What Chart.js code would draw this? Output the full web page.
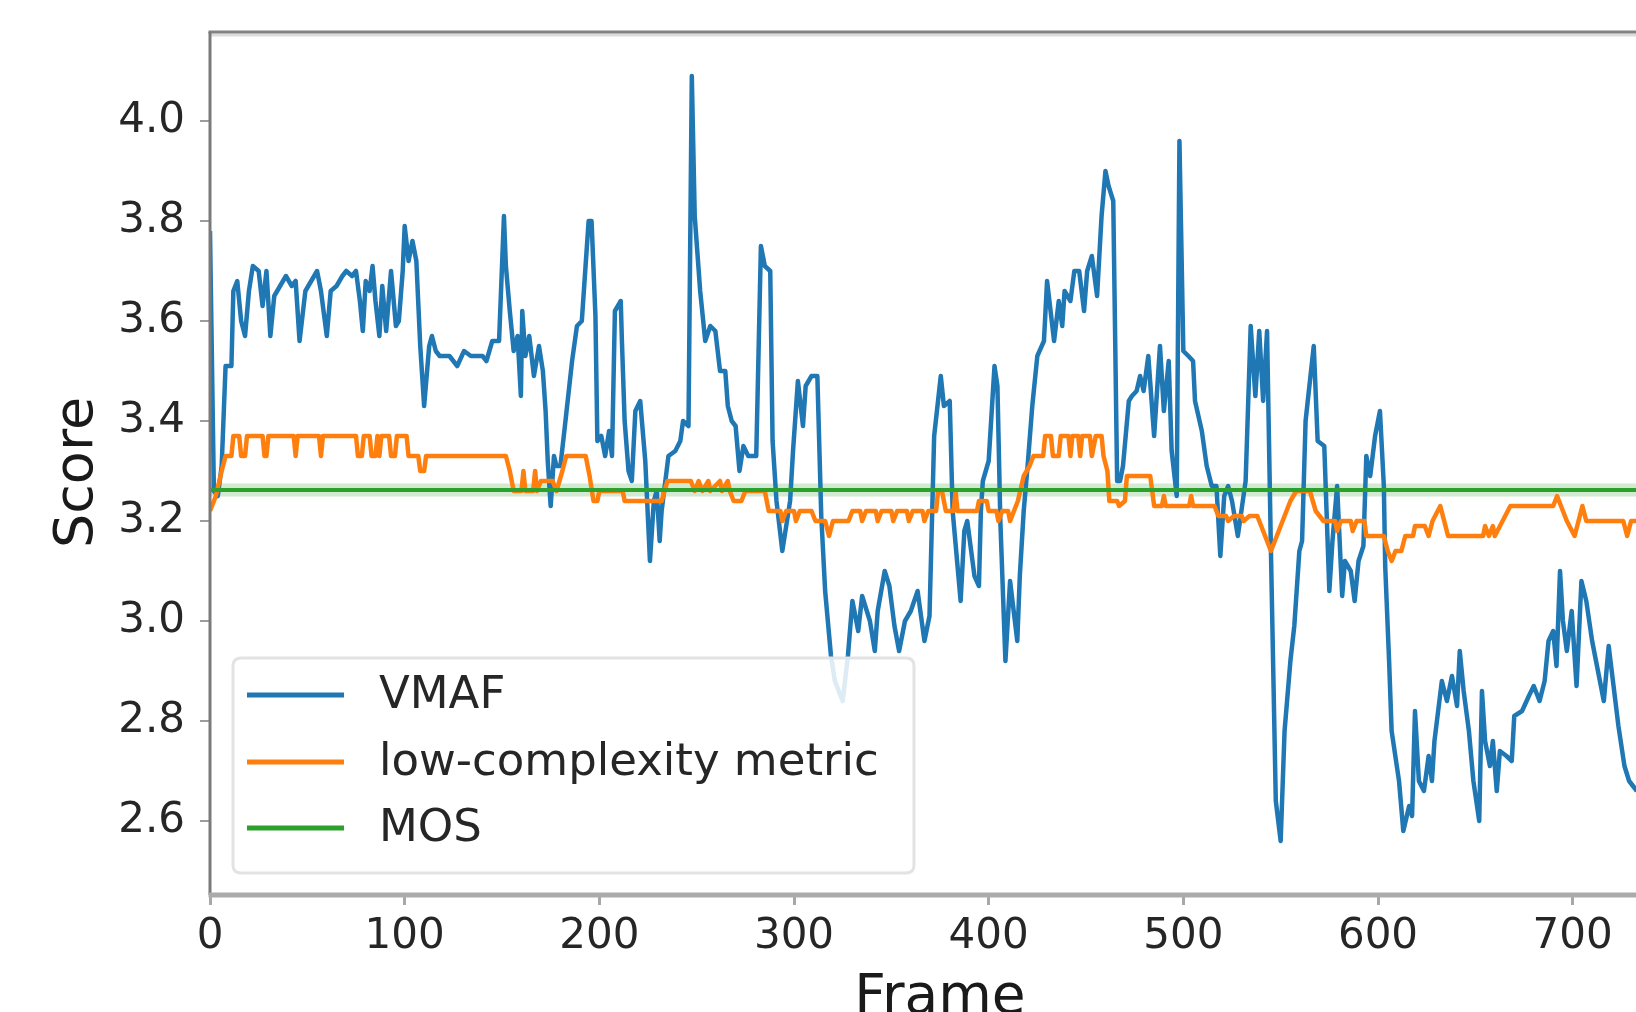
<!DOCTYPE html>
<html><head><meta charset="utf-8">
<script src="https://cdn.jsdelivr.net/npm/chart.js@4.4.1/dist/chart.umd.min.js"></script>
<style>
html,body{margin:0;padding:0;background:#fff;overflow:hidden;width:1636px;height:1012px;}
#wrap{position:absolute;left:0;top:0;width:1720px;height:1060px;}
</style></head><body>
<div id="wrap"><canvas id="c"></canvas></div>
<script>
const vmafFrames = [
0,2,4,6,8,11,12,14,16,18,
20,22,25,27,29,31,33,36,39,42,
44,46,49,52,55,57,60,62,65,68,
70,73,75,77,78.5,80,82,83.5,85,87,
88.5,90.5,93,95.5,97,99,100,102,104,106,
108,110,112.6,114,116,118,121,123,127,130.5,
134,137,140,142,145,148.5,151,152,154,156,
158,159.7,160.4,162,164,166.4,169,171,172.4,173.5,
175,176.7,178,180,182.6,186,188.5,191,194.5,196,
198,199,201,203,205,206.5,208,211,211.6,213,
215,216.7,218.5,221,223.6,226,228,229.5,231,232,
235.5,239,241.6,243,245.8,247.5,249,251.8,254.4,257,
259.6,262,264.7,266,268,270,272,274,276.5,280.6,
283,285,287.8,289,291,294,298,299.5,302,304.6,
306,309,312,314,316,319,321,325,327.7,330,
333,335,339,341.5,343,346.6,349,351.6,354,357,
360,363.5,367,369.6,372,375.4,377,380,381.5,385.6,
387.5,389,392.7,395,396,397,400,403,404.5,406,
408.6,411,414.7,416,418,420,422.4,425,428.4,430,
433.6,436,437.8,439,442,444,446.5,449,450.6,453,
455.7,456.7,458,460,461.6,464,466,467.5,469,472,
473.6,476,477.8,479.6,482,485,488,490,492.5,494,
496.6,498,500,502.6,505,506,509.5,512,514.6,517,
519,521,523,525,528,532,534.6,537,539,541,
543,545,547.5,550,552,555,557,559.6,561,562.8,
567,569,572.4,575,576.6,579,581.6,583,586,588,
590,592.5,594,596,598.5,601,603,603.7,605.7,607,
610.8,613,616,617.5,619,621,623.6,626,627.7,629,
632.8,635.4,638,640.6,642,644,646.7,649,652,653.4,
655,657.5,659,661,662.6,666,668.7,670,674,677.5,
680,683,685.6,687.6,690,691.7,693.5,695,697,699.5,
702,704.5,707,710,713,716,718.5,721,723.5,726.6,
729,733];
const vmafScores = [
3.78,3.26,3.25,3.31,3.51,3.51,3.66,3.68,3.60,3.57,
3.66,3.71,3.70,3.63,3.70,3.57,3.65,3.67,3.69,3.67,
3.68,3.56,3.66,3.68,3.70,3.66,3.57,3.66,3.67,3.69,
3.70,3.69,3.70,3.64,3.58,3.68,3.66,3.71,3.64,3.57,
3.67,3.58,3.70,3.59,3.60,3.70,3.79,3.72,3.76,3.72,
3.55,3.43,3.55,3.57,3.54,3.53,3.53,3.53,3.51,3.54,
3.53,3.53,3.53,3.52,3.56,3.56,3.81,3.71,3.62,3.54,
3.57,3.45,3.62,3.53,3.57,3.49,3.55,3.50,3.42,3.32,
3.23,3.33,3.31,3.31,3.40,3.52,3.59,3.60,3.80,3.80,
3.61,3.36,3.37,3.33,3.38,3.33,3.62,3.64,3.56,3.40,
3.30,3.28,3.42,3.44,3.32,3.12,3.24,3.26,3.16,3.22,
3.33,3.34,3.36,3.40,3.39,4.09,3.81,3.66,3.56,3.59,
3.58,3.50,3.50,3.43,3.40,3.39,3.30,3.35,3.33,3.33,
3.75,3.71,3.70,3.36,3.24,3.14,3.24,3.34,3.48,3.39,
3.47,3.49,3.49,3.21,3.06,2.93,2.88,2.84,2.93,3.04,
2.98,3.05,3.00,2.94,3.02,3.10,3.07,2.99,2.94,3.00,
3.02,3.06,2.96,3.01,3.37,3.49,3.43,3.44,3.22,3.04,
3.18,3.20,3.09,3.07,3.22,3.28,3.32,3.51,3.47,3.20,
2.92,3.08,2.96,3.09,3.22,3.31,3.43,3.53,3.56,3.68,
3.56,3.64,3.59,3.66,3.64,3.70,3.70,3.62,3.70,3.73,
3.65,3.72,3.81,3.90,3.87,3.84,3.28,3.28,3.31,3.44,
3.45,3.46,3.49,3.46,3.53,3.37,3.55,3.42,3.52,3.34,
3.25,3.96,3.54,3.53,3.52,3.44,3.38,3.31,3.27,3.27,
3.13,3.25,3.27,3.24,3.17,3.28,3.59,3.45,3.58,3.44,
3.58,3.14,2.64,2.56,2.78,2.92,2.99,3.14,3.16,3.40,
3.55,3.36,3.35,3.06,3.16,3.27,3.05,3.12,3.10,3.04,
3.12,3.15,3.33,3.29,3.37,3.42,3.27,3.11,2.92,2.78,
2.68,2.58,2.63,2.61,2.82,2.68,2.66,2.73,2.68,2.76,
2.88,2.84,2.89,2.83,2.94,2.86,2.78,2.68,2.60,2.86,
2.76,2.71,2.76,2.66,2.74,2.73,2.72,2.81,2.82,2.85,
2.87,2.84,2.88,2.96,2.98,2.91,3.10,3.00,2.94,3.02,
2.87,3.08,3.04,2.96,2.90,2.84,2.95,2.87,2.79,2.71,
2.68,2.66];

const lcmFrames = [
0,3,6,8,11,12,15,16,18,19,
27,28,29,30,43,44,45,56,57,58,
75,76,78,79,82,83,85,86,87,88,
92,93,95,96,101,102,107,108,110,111,
152,154,156,160,161,162,166,167,168,170,
176,178,181,183,193,195,197,199,200,212,
213,232,235,247,249,251,253,256,257,262,
263,266,267,269,273,275,285,287,293,294,
296,300,301,303,309,311,316,318,320,328,
330,334,335,337,342,343,345,350,351,353,
358,359,361,366,367,369,373,374,376,378,
382,383,384,394,395,399,400,404,405,407,
410,411,413,415,418,421,423,428,429,432,
433,436,437,441,442,443,446,447,448,452,
453,455,458,459,461,462,466,467,470,471,
483,485,489,490,491,503,504,505,516,518,
522,523,526,530,531,534,538,542,545,548,
551,555,558,565,568,572,578,579,581,586,
587,589,593,594,603,605,607,609,612,614,
618,619,624,626,628,632,634,636,654,655,
657,659,660,664,668,690,692,694,697,701,
703,705,707,726,728,730,735];
const lcmScores = [
3.22,3.25,3.30,3.33,3.33,3.37,3.37,3.33,3.33,3.37,
3.37,3.33,3.33,3.37,3.37,3.33,3.37,3.37,3.33,3.37,
3.37,3.33,3.33,3.37,3.37,3.33,3.33,3.37,3.33,3.37,
3.37,3.33,3.33,3.37,3.37,3.33,3.33,3.30,3.30,3.33,
3.33,3.30,3.26,3.26,3.30,3.26,3.26,3.30,3.26,3.28,
3.28,3.26,3.30,3.33,3.33,3.29,3.24,3.24,3.26,3.26,
3.24,3.24,3.28,3.28,3.26,3.28,3.26,3.28,3.26,3.28,
3.26,3.28,3.26,3.24,3.24,3.26,3.26,3.22,3.22,3.20,
3.22,3.22,3.20,3.22,3.22,3.20,3.20,3.17,3.20,3.20,
3.22,3.22,3.20,3.22,3.22,3.20,3.22,3.22,3.20,3.22,
3.22,3.20,3.22,3.22,3.20,3.22,3.22,3.26,3.26,3.22,
3.22,3.26,3.22,3.22,3.24,3.24,3.22,3.22,3.20,3.22,
3.22,3.20,3.22,3.24,3.29,3.31,3.33,3.33,3.37,3.37,
3.33,3.33,3.37,3.37,3.33,3.37,3.37,3.33,3.37,3.37,
3.33,3.37,3.37,3.33,3.30,3.24,3.24,3.23,3.24,3.29,
3.29,3.23,3.23,3.25,3.23,3.23,3.25,3.23,3.23,3.21,
3.21,3.20,3.21,3.21,3.20,3.21,3.21,3.17,3.14,3.17,
3.20,3.24,3.26,3.26,3.22,3.20,3.20,3.18,3.20,3.20,
3.18,3.20,3.20,3.17,3.17,3.14,3.12,3.14,3.14,3.17,
3.17,3.19,3.19,3.17,3.20,3.23,3.20,3.17,3.17,3.19,
3.17,3.19,3.17,3.20,3.23,3.23,3.25,3.23,3.20,3.17,
3.20,3.23,3.20,3.20,3.17,3.20,3.20];

const mosScore = 3.262;
const mosFrames = [0, 750];

const xTicks = [0, 100, 200, 300, 400, 500, 600, 700];
const yTicks = [2.6, 2.8, 3.0, 3.2, 3.4, 3.6, 3.8, 4.0];
const xRange = [0, 750];
const yRange = [2.452, 4.178];

const seriesLabels = ['VMAF', 'low-complexity metric', 'MOS'];
const seriesColors = ['#1f77b4', '#ff7f0e', '#2ca02c'];
const axisTitles = ['Frame', 'Score'];

const FONT = '"DejaVu Sans", "Liberation Sans", sans-serif';

function toPoints(xs, ys) { return xs.map((x, i) => ({x: x, y: ys[i]})); }

const decor = {
  id: 'decor',
  beforeDatasetsDraw(chart) {
    const {ctx, chartArea: a, scales: {y}} = chart;
    const py = y.getPixelForValue(mosScore);
    ctx.save();
    ctx.beginPath(); ctx.rect(a.left, a.top, a.right - a.left, a.bottom - a.top); ctx.clip();
    ctx.strokeStyle = 'rgba(44,160,44,0.22)';
    ctx.lineWidth = 13;
    ctx.beginPath(); ctx.moveTo(a.left, py); ctx.lineTo(a.right, py); ctx.stroke();
    ctx.restore();
  },
  afterDraw(chart) {
    const {ctx, chartArea: a} = chart;
    ctx.save();
    ctx.lineCap = 'butt';
    const seg = (x1, y1, x2, y2, c, w) => { ctx.strokeStyle = c; ctx.lineWidth = w; ctx.beginPath(); ctx.moveTo(x1, y1); ctx.lineTo(x2, y2); ctx.stroke(); };
    // spines
    seg(a.left, a.top + 3, a.right, a.top + 3, '#dcdcdc', 3);
    seg(a.left - 1.5, a.top, a.right, a.top, '#828282', 3);
    seg(a.left, a.top, a.left, a.bottom, '#7a7a7a', 3);
    seg(a.right, a.top, a.right, a.bottom, '#7a7a7a', 3);
    seg(a.left - 1.5, a.bottom, a.right, a.bottom, '#ababab', 5);

    // legend
    const lx = a.left + 23, ly = a.bottom - 237, lw = 681, lh = 215, r = 8;
    ctx.beginPath();
    ctx.moveTo(lx + r, ly); ctx.lineTo(lx + lw - r, ly); ctx.quadraticCurveTo(lx + lw, ly, lx + lw, ly + r);
    ctx.lineTo(lx + lw, ly + lh - r); ctx.quadraticCurveTo(lx + lw, ly + lh, lx + lw - r, ly + lh);
    ctx.lineTo(lx + r, ly + lh); ctx.quadraticCurveTo(lx, ly + lh, lx, ly + lh - r);
    ctx.lineTo(lx, ly + r); ctx.quadraticCurveTo(lx, ly, lx + r, ly); ctx.closePath();
    ctx.fillStyle = 'rgba(255,255,255,0.85)'; ctx.fill();
    ctx.strokeStyle = '#e3e3e3'; ctx.lineWidth = 3; ctx.stroke();
    const rows = [37, 104, 170];
    ctx.font = '45px ' + FONT;
    ctx.textBaseline = 'middle';
    ctx.textAlign = 'left';
    chart.data.datasets.forEach((ds, i) => {
      const yy = ly + rows[i];
      seg(lx + 14, yy, lx + 111, yy, ds.borderColor, 5);
      ctx.fillStyle = '#262626';
      ctx.fillText(ds.label, lx + 146, yy + 1);
    });

    // axis titles
    ctx.fillStyle = '#1a1a1a';
    ctx.font = '55px ' + FONT;
    ctx.textAlign = 'center';
    ctx.textBaseline = 'alphabetic';
    ctx.fillText(axisTitles[0], (a.left + a.right) / 2, 1013);
    ctx.font = '54px ' + FONT;
    ctx.translate(92, (a.top + a.bottom) / 2 + 9);
    ctx.rotate(-Math.PI / 2);
    ctx.fillText(axisTitles[1], 0, 0);
    ctx.restore();
  }
};

new Chart(document.getElementById('c'), {
  type: 'line',
  data: {
    datasets: [
      {label: seriesLabels[0], data: toPoints(vmafFrames, vmafScores), borderColor: seriesColors[0], borderWidth: 4.5, order: 3},
      {label: seriesLabels[1], data: toPoints(lcmFrames, lcmScores), borderColor: seriesColors[1], borderWidth: 4.5, order: 2},
      {label: seriesLabels[2], data: toPoints(mosFrames, mosFrames.map(() => mosScore)), borderColor: seriesColors[2], borderWidth: 4, order: 1}
    ]
  },
  options: {
    responsive: true,
    maintainAspectRatio: false,
    animation: false,
    devicePixelRatio: 1,
    layout: {padding: {top: 32, right: 50, left: 0, bottom: 0}},
    elements: {point: {radius: 0, hoverRadius: 0}, line: {tension: 0, fill: false, borderJoinStyle: 'round'}},
    plugins: {legend: {display: false}, tooltip: {enabled: false}},
    events: [],
    scales: {
      x: {
        type: 'linear', min: xRange[0], max: xRange[1],
        afterBuildTicks: s => { s.ticks = xTicks.map(v => ({value: v})); },
        afterFit: s => { s.height = 165; s.paddingLeft = 0; s.paddingRight = 0; },
        grid: {display: true, drawOnChartArea: false, drawTicks: true, tickLength: 10, color: '#a8a8a8', lineWidth: 3},
        border: {display: false},
        ticks: {font: {family: FONT, size: 42}, color: '#262626', padding: 7, maxRotation: 0, autoSkip: false, callback: v => String(v)}
      },
      y: {
        type: 'linear', min: yRange[0], max: yRange[1],
        afterBuildTicks: s => { s.ticks = yTicks.map(v => ({value: v})); },
        afterFit: s => { s.width = 210; s.paddingTop = 0; s.paddingBottom = 0; },
        grid: {display: true, drawOnChartArea: false, drawTicks: true, tickLength: 10, color: '#9c9c9c', lineWidth: 2},
        border: {display: false},
        ticks: {font: {family: FONT, size: 42}, color: '#262626', padding: 15, autoSkip: false, callback: v => v.toFixed(1)}
      }
    }
  },
  plugins: [decor]
});
</script>
</body></html>
